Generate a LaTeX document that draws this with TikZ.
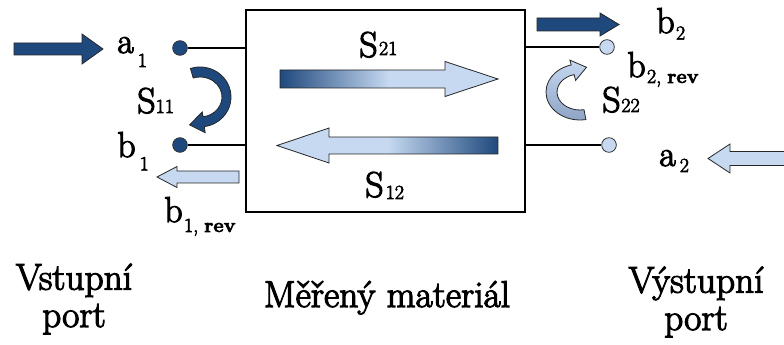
\documentclass[tikz,border=0pt]{standalone}
\usepackage{fontspec}
\newfontfamily\heavyfont{Latin Modern Roman}[FakeBold=3]
\usetikzlibrary{calc}
\definecolor{darkb}{RGB}{31,73,125}
\definecolor{lightb}{RGB}{198,217,241}
\definecolor{greyb}{RGB}{140,162,196}
% options, tail x, head-base x, tip x, centre y, shaft half width, head half width
\newcommand\blockarr[7]{%
  \path[#1] (#2,#5-#6) -- (#3,#5-#6) -- (#3,#5-#7) -- (#4,#5) -- (#3,#5+#7) -- (#3,#5+#6) -- (#2,#5+#6) -- cycle;}
\newcommand\lsub[3]{\kern#1\raisebox{#2}{\fontsize{15}{17}\selectfont #3}}
\begin{document}
\begin{tikzpicture}[x=0.75pt,y=-0.75pt,
  lab/.style={inner sep=0pt, anchor=base west, font=\heavyfont\fontsize{27}{31}\selectfont},
  bot/.style={inner sep=0pt, anchor=base, align=center, font=\heavyfont\fontsize{28}{28}\selectfont},
  outl/.style={draw=black!85, line width=0.6pt},
  port/.style={circle, draw=black!80, line width=0.6pt, minimum size=11pt, inner sep=0pt},
  wire/.style={line width=2pt}]
\useasboundingbox (0,0) rectangle (784,345);

% measured material box
\coordinate (bx1) at (246,10);
\coordinate (bx2) at (525,212);
\draw[wire] (bx1) rectangle (bx2);

% ports
\node[port, fill=darkb] (p1a) at (180,48) {};
\node[port, fill=darkb] (p1b) at (180,145) {};
\node[port, fill=lightb] (p2b) at (607,47) {};
\node[port, fill=lightb] (p2a) at (609,145) {};
\draw[wire] (p1a) -- (p1a -| bx1);
\draw[wire] (p1b) -- (p1b -| bx1);
\draw[wire] (p2b) -- (p2b -| bx2);
\draw[wire] (p2a) -- (p2a -| bx2);

% block arrows
\blockarr{fill=darkb,outl}{14}{82}{103}{49}{6}{15}
\blockarr{fill=lightb,outl}{239}{177}{157}{177}{6}{10.5}
\blockarr{outl,left color=darkb,right color=lightb,middle color=lightb}{280}{445}{498}{79}{9}{17.5}
\blockarr{outl,left color=lightb,right color=darkb,middle color=lightb}{498}{329}{277}{145.5}{8.5}{17.5}
\blockarr{fill=darkb,outl}{537}{600}{619}{24.5}{6.5}{11.5}
\blockarr{fill=lightb,outl}{800}{730}{708}{158.5}{7}{14.5}

% S11 curved arrow
\coordinate (c11) at (200,97);
\path[fill=darkb,outl] ($(c11)+(-108:31 and 30)$) arc[start angle=-108,end angle=82,x radius=31,y radius=30]
  -- ($(c11)+(82:37 and 36)$) -- (189.6,124.9) -- ($(c11)+(82:16 and 15)$) -- ($(c11)+(82:22 and 20)$)
  arc[start angle=82,end angle=-108,x radius=22,y radius=20] -- cycle;

% S22 curved arrow
\coordinate (c22) at (580,92);
\path[outl,top color=lightb,bottom color=greyb] ($(c22)+(80:34 and 28)$)
  arc[start angle=80,end angle=255,x radius=34,y radius=28]
  -- ($(c22)+(255:39 and 33)$) -- (586.5,67.3) -- ($(c22)+(255:17 and 12)$) -- ($(c22)+(255:23 and 18)$)
  arc[start angle=255,end angle=80,x radius=23,y radius=18] -- cycle;

% labels
\node[lab] (a1) at (117,53) {a\lsub{3pt}{-10.5pt}{1}};
\node[lab] (b1) at (117,157) {b\lsub{3pt}{-10pt}{1}};
\node[lab] (s11) at (137,113) {S\lsub{0pt}{0pt}{11}};
\node[lab] (b1r) at (164,222) {b\lsub{1pt}{-7.5pt}{1, \textbf{rev}}};
\node[lab] (s21) at (359,57) {S\lsub{1pt}{1.5pt}{21}};
\node[lab] (s12) at (365,197) {S\lsub{1.5pt}{-1.5pt}{12}};
\node[lab] (b2) at (656,33) {b\lsub{1pt}{-5pt}{2}};
\node[lab] (b2r) at (627,77) {b\lsub{1pt}{-4.5pt}{2, \textbf{rev}}};
\node[lab] (s22) at (602,112) {S\lsub{0.5pt}{0pt}{22}};
\node[lab] (a2) at (659,166) {a\lsub{3pt}{-4.5pt}{2}};

\node[bot] (vst) at (74,327) {Vstupní\\port};
\node[bot] (mat) at (387,307) {Měřený materiál};
\node[bot] (vyst) at (696,330) {Výstupní\\port};
\end{tikzpicture}
\end{document}
